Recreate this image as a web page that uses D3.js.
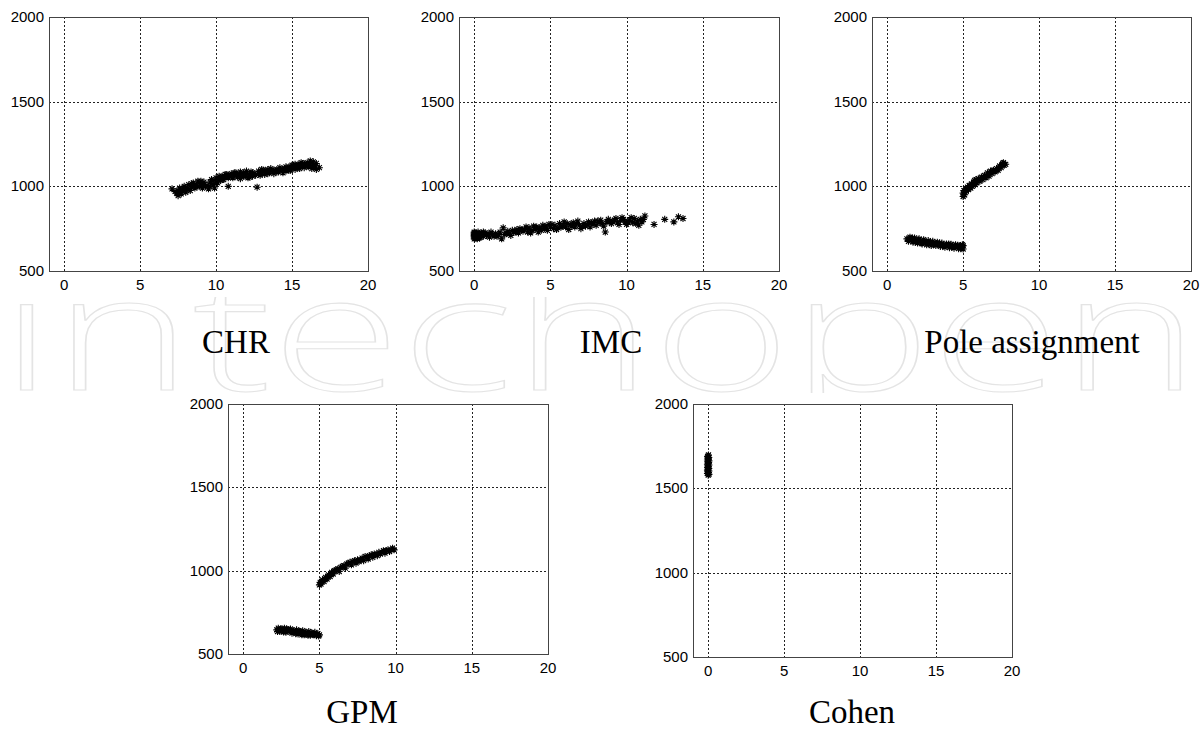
<!DOCTYPE html>
<html>
<head>
<meta charset="utf-8">
<title>Scatter panels</title>
<script src="https://cdn.jsdelivr.net/npm/d3@7"></script>
<style>
  body { margin: 0; background: #fff; }
  .grid line { stroke: #222; stroke-width: 1; stroke-dasharray: 2,2; shape-rendering: crispEdges; }
  .frame { fill: none; stroke: #444; stroke-width: 1; shape-rendering: crispEdges; }
  .tick-label { font-family: "Liberation Sans", Arial, sans-serif; font-size: 15px; fill: #000; }
  .title { font-family: "Liberation Serif", serif; font-size: 33px; fill: #000; }
  .star { stroke: #000; stroke-width: 1.1; fill: none; }
  .watermark { font-family: "Open Sans", sans-serif; font-weight: 300; font-size: 160px; fill: #fff; stroke: #e4e4e4; stroke-width: 1.1; }
</style>
</head>
<body>
<div id="chart"></div>
<script>
// values, [x, y]
var chrPoints = [[7.1,985],[7.4,960],[7.5,945],[7.5,975],[7.6,990],[7.7,955],[7.8,970],[7.9,1000],[8.0,965],[8.1,985],
  [8.2,1010],[8.3,975],[8.4,995],[8.5,1020],[8.6,990],[8.7,1005],[8.8,1030],[8.9,1000],[9.0,1015],[9.1,990],
  [9.2,1010],[9.3,1000],[9.5,985],[9.6,1025],[9.7,1040],[9.8,1010],[9.9,990],[10.0,1050],[10.1,1020],[10.2,1045],
  [10.3,1035],[10.4,1060],[10.5,1040],[10.6,1055],[10.7,1070],[10.8,1000],[10.9,1060],[11.0,1075],[11.1,1050],[11.2,1065],
  [11.3,1080],[11.4,1055],[11.5,1070],[11.6,1045],[11.7,1065],[11.8,1080],[11.9,1060],[12.0,1075],[12.1,1050],[12.2,1070],
  [12.3,1085],[12.4,1060],[12.5,1075],[12.7,995],[12.8,1090],[12.9,1065],[13.0,1080],[13.1,1095],[13.2,1070],[13.3,1085],
  [13.4,1100],[13.5,1080],[13.6,1095],[13.8,1075],[13.9,1090],[14.0,1100],[14.1,1085],[14.2,1095],[14.4,1080],[14.5,1105],
  [14.6,1090],[14.7,1100],[14.8,1115],[14.9,1095],[15.0,1110],[15.1,1125],[15.2,1100],[15.3,1115],[15.4,1130],[15.5,1105],
  [15.6,1120],[15.7,1135],[15.8,1110],[15.9,1125],[16.0,1140],[16.1,1115],[16.2,1130],[16.3,1105],[16.4,1145],[16.5,1120],
  [16.6,1100],[16.8,1110],
  [7.3,970],[7.6,965],[7.8,985],[8.0,995],[8.2,980],[8.4,1015],[8.6,1010],[8.8,1000],[9.0,1030],[9.2,1025],
  [9.4,1005],[9.6,1000],[9.8,1035],[10.0,1025],[10.2,1060],[10.4,1040],[10.6,1070],[10.8,1050],[11.0,1060],[11.2,1080],
  [11.4,1070],[11.6,1085],[11.8,1060],[12.0,1090],[12.2,1055],[12.4,1080],[12.6,1065],[12.8,1075],[13.0,1100],[13.2,1090],
  [13.4,1075],[13.6,1105],[13.8,1095],[14.0,1085],[14.2,1110],[14.4,1100],[14.6,1115],[14.8,1095],[15.0,1125],[15.2,1130],
  [15.4,1110],[15.6,1140],[15.8,1130],[16.0,1120],[16.2,1150],[16.4,1125],[16.6,1135]];

var imcPoints = [[0,690],[0,700],[0,710],[0,720],[0,730],[0.05,695],[0.05,715],[0.1,705],[0.1,725],[0.2,690],
  [0.3,715],[0.4,700],[0.5,720],[0.6,705],[0.7,725],[0.8,710],[1.0,700],[1.1,730],[1.2,715],[1.4,720],
  [1.5,705],[1.7,730],[1.8,690],[1.9,755],[2.0,715],[2.2,735],[2.3,720],[2.5,740],[2.6,730],[2.8,745],
  [2.9,725],[3.0,750],[3.2,735],[3.3,745],[3.5,730],[3.6,755],[3.8,740],[3.9,765],[4.0,745],[4.2,730],
  [4.3,755],[4.5,770],[4.6,750],[4.8,740],[4.9,775],[5.0,760],[5.2,750],[5.3,770],[5.5,755],[5.6,780],
  [5.8,765],[5.9,790],[6.0,760],[6.2,745],[6.3,775],[6.5,785],[6.6,760],[6.8,795],[6.9,770],[7.0,750],
  [7.2,780],[7.3,765],[7.5,790],[7.6,760],[7.8,775],[7.9,795],[8.0,770],[8.2,785],[8.3,800],[8.5,765],
  [8.6,730],[8.7,790],[8.8,805],[9.0,780],[9.1,795],[9.3,810],[9.4,785],[9.6,800],[9.7,815],[9.9,790],
  [10.0,775],[10.2,800],[10.4,785],[10.5,810],[10.7,795],[10.8,770],[10.9,805],[11.0,790],[11.2,825],[11.8,775],
  [12.5,805],[13.1,790],[13.4,820],[13.7,810],
  [0,705],[0,715],[0,725],[0.15,700],[0.25,730],[0.35,695],[0.45,725],[0.6,730],[0.9,720],[1.3,705],
  [1.6,715],[2.1,725],[2.4,710],[2.7,730],[3.1,740],[3.4,760],[3.7,725],[4.1,760],[4.4,740],[4.7,765],
  [5.1,775],[5.4,745],[5.7,760],[6.1,780],[6.4,765],[6.7,780],[7.1,765],[7.4,775],[7.7,785],[8.1,795],
  [8.4,780],[8.9,790],[9.2,800],[9.5,775],[9.8,805],[10.1,790],[10.3,815],[10.6,780],[11.1,805]];

var polePoints = [[1.3,690],[1.4,675],[1.5,700],[1.6,685],[1.7,670],[1.8,695],[1.9,680],[2.0,665],[2.1,690],[2.2,675],
  [2.3,660],[2.4,685],[2.5,670],[2.6,655],[2.7,680],[2.8,665],[2.9,650],[3.0,675],[3.1,660],[3.2,650],
  [3.3,670],[3.4,655],[3.5,645],[3.6,665],[3.7,650],[3.8,640],[3.9,660],[4.0,648],[4.1,638],[4.2,658],
  [4.3,645],[4.4,635],[4.5,655],[4.6,642],[4.7,632],[4.8,650],[4.9,640],[5.0,630],[5.0,650],
  [1.45,690],[1.65,695],[1.85,670],[2.05,685],[2.25,665],[2.45,675],[2.65,665],[2.85,672],[3.05,658],[3.25,662],
  [3.45,665],[3.65,648],[3.85,652],[4.05,660],[4.25,640],[4.45,648],[4.65,652],[4.85,632],[4.95,655],
  [5.0,940],[5.0,960],[5.05,975],[5.1,950],[5.15,985],[5.2,970],[5.3,995],[5.35,980],[5.4,1005],[5.5,990],
  [5.55,1015],[5.6,1000],[5.7,1025],[5.8,1010],[5.85,1040],[5.9,1020],[6.0,1045],[6.1,1030],[6.2,1055],[6.3,1040],
  [6.4,1065],[6.5,1050],[6.6,1080],[6.7,1060],[6.8,1090],[6.9,1075],[7.0,1095],[7.1,1085],[7.2,1105],[7.3,1095],
  [7.4,1120],[7.5,1110],[7.6,1135],[7.7,1125],[7.8,1130],
  [5.05,950],[5.25,985],[5.45,995],[5.65,1010],[5.75,1035],[5.95,1035],[6.15,1045],[6.35,1055],[6.55,1065],[6.75,1080],
  [6.95,1090],[7.15,1095],[7.35,1110],[7.55,1125],[7.65,1140]];

var gpmPoints = [[2.2,645],[2.3,655],[2.4,635],[2.5,650],[2.6,640],[2.7,655],[2.8,630],[2.9,645],[3.0,635],[3.1,650],
  [3.2,625],[3.3,640],[3.4,630],[3.5,645],[3.6,620],[3.7,635],[3.8,625],[3.9,640],[4.0,615],[4.1,630],
  [4.2,620],[4.3,635],[4.4,612],[4.5,625],[4.6,615],[4.7,630],[4.8,610],[4.9,622],[5.0,615],
  [2.25,635],[2.45,648],[2.65,632],[2.85,650],[3.05,642],[3.25,635],[3.45,622],[3.65,638],[3.85,615],[4.05,628],
  [4.25,612],[4.45,628],[4.65,622],[4.85,618],[4.95,608],
  [5.0,915],[5.05,930],[5.1,920],[5.2,945],[5.3,935],[5.4,960],[5.5,950],[5.6,975],[5.7,965],[5.8,990],
  [5.9,980],[6.0,1000],[6.2,1010],[6.3,995],[6.4,1020],[6.6,1030],[6.7,1015],[6.8,1040],[7.0,1050],[7.1,1035],
  [7.2,1055],[7.4,1045],[7.5,1065],[7.6,1055],[7.8,1075],[7.9,1060],[8.0,1085],[8.2,1070],[8.3,1090],[8.5,1080],
  [8.6,1100],[8.8,1090],[8.9,1110],[9.0,1100],[9.2,1120],[9.3,1105],[9.5,1125],[9.6,1115],[9.8,1135],[9.9,1125],
  [5.15,935],[5.35,950],[5.55,965],[5.75,980],[5.95,995],[6.1,1005],[6.5,1025],[6.9,1045],[7.3,1060],[7.7,1065],
  [8.1,1080],[8.4,1095],[8.7,1095],[9.1,1110],[9.4,1120],[9.7,1125]];

var cohenPoints = [[0,1578],[0.05,1583],[-0.05,1588],[0.02,1593],[-0.03,1598],[0.05,1603],[-0.05,1608],[0,1613],
  [0.04,1618],[-0.04,1623],[0.02,1628],[-0.02,1633],[0.05,1638],[-0.05,1643],[0,1648],[0.03,1653],
  [-0.03,1658],[0.05,1663],[-0.05,1668],[0.02,1673],[-0.02,1678],[0.04,1683],[-0.04,1688],[0,1693],[0.02,1698]];

var xTicks = [0, 5, 10, 15, 20];
var yTicks = [500, 1000, 1500, 2000];
var xDomain = [-1, 20];
var yDomain = [500, 2000];
var titles = ["CHR", "IMC", "Pole assignment", "GPM", "Cohen"];

var width = 1204, height = 731;
var svg = d3.select("#chart").append("svg")
    .attr("width", width)
    .attr("height", height);

// faint publisher watermark behind the plots, stretched to the full width
svg.append("clipPath").attr("id", "wm-clip")
  .append("rect").attr("x", 0).attr("y", 297).attr("width", width).attr("height", 96);
var wmWrap = svg.append("g").attr("clip-path", "url(#wm-clip)");
var wm = wmWrap.append("text")
    .attr("class", "watermark")
    .attr("x", 0).attr("y", 390)
    .text("intechopen");
var wmLen = wm.node().getComputedTextLength();
wm.attr("transform", "scale(" + (1200 / wmLen) + ",1)");

var panels = [
  {data: chrPoints,   x0: 49,  x1: 368,  y0: 17,  y1: 271, tx: 236,  ty: 353},
  {data: imcPoints,   x0: 459, x1: 779,  y0: 17,  y1: 271, tx: 611,  ty: 353},
  {data: polePoints,  x0: 872, x1: 1191, y0: 17,  y1: 271, tx: 1032, ty: 353},
  {data: gpmPoints,   x0: 228, x1: 548,  y0: 404, y1: 654, tx: 362,  ty: 723},
  {data: cohenPoints, x0: 693, x1: 1012, y0: 404, y1: 657, tx: 852,  ty: 723}
];

var star = "M-3.5,0H3.5M0,-3.5V3.5M-2.5,-2.5L2.5,2.5M-2.5,2.5L2.5,-2.5";

panels.forEach(function(p, i) {
  var x = d3.scaleLinear().domain(xDomain).range([p.x0, p.x1]);
  var y = d3.scaleLinear().domain(yDomain).range([p.y1, p.y0]);
  var g = svg.append("g");

  var grid = g.append("g").attr("class", "grid");
  grid.selectAll(".vx").data(xTicks).enter().append("line")
    .attr("x1", function(d) { return Math.round(x(d)) + 0.5; })
    .attr("x2", function(d) { return Math.round(x(d)) + 0.5; })
    .attr("y1", p.y0).attr("y2", p.y1);
  grid.selectAll(".hy").data(yTicks).enter().append("line")
    .attr("y1", function(d) { return Math.round(y(d)) + 0.5; })
    .attr("y2", function(d) { return Math.round(y(d)) + 0.5; })
    .attr("x1", p.x0).attr("x2", p.x1);

  g.append("rect").attr("class", "frame")
    .attr("x", p.x0 + 0.5).attr("y", p.y0 + 0.5)
    .attr("width", p.x1 - p.x0).attr("height", p.y1 - p.y0);

  g.selectAll(".xl").data(xTicks).enter().append("text")
    .attr("class", "tick-label")
    .attr("x", function(d) { return x(d); })
    .attr("y", p.y1 + 19)
    .attr("text-anchor", "middle")
    .text(function(d) { return d; });
  g.selectAll(".yl").data(yTicks).enter().append("text")
    .attr("class", "tick-label")
    .attr("x", p.x0 - 5)
    .attr("y", function(d) { return y(d) + 5; })
    .attr("text-anchor", "end")
    .text(function(d) { return d; });

  g.selectAll(".star").data(p.data).enter().append("path")
    .attr("class", "star")
    .attr("transform", function(d) { return "translate(" + x(d[0]) + "," + y(d[1]) + ")"; })
    .attr("d", star);

  svg.append("text").attr("class", "title")
    .attr("x", p.tx).attr("y", p.ty)
    .attr("text-anchor", "middle")
    .text(titles[i]);
});
</script>
</body>
</html>
